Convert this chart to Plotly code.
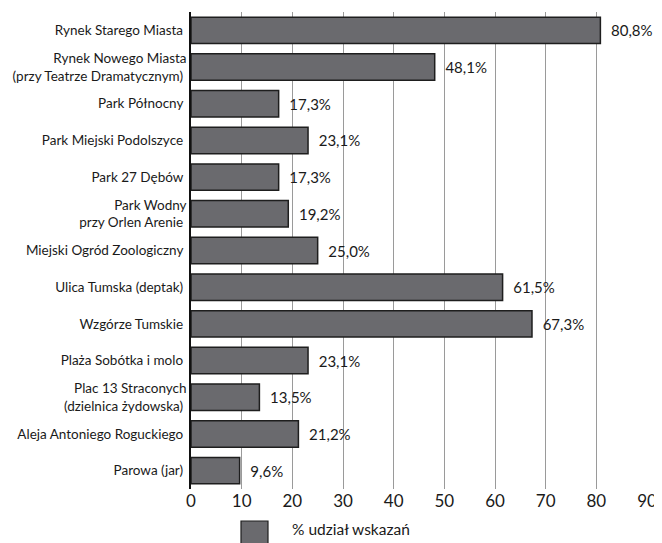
import plotly.graph_objects as go

categories = [
    "Rynek Starego Miasta",
    "Rynek Nowego Miasta<br>(przy Teatrze Dramatycznym)",
    "Park Północny",
    "Park Miejski Podolszyce",
    "Park 27 Dębów",
    "Park Wodny<br>przy Orlen Arenie",
    "Miejski Ogród Zoologiczny",
    "Ulica Tumska (deptak)",
    "Wzgórze Tumskie",
    "Plaża Sobótka i molo",
    "Plac 13 Straconych<br>(dzielnica żydowska)",
    "Aleja Antoniego Roguckiego",
    "Parowa (jar)",
]
values = [80.8, 48.1, 17.3, 23.1, 17.3, 19.2, 25.0, 61.5, 67.3, 23.1, 13.5, 21.2, 9.6]
labels = [("%.1f%%" % v).replace(".", ",") for v in values]
tick_vals = list(range(0, 100, 10))
series_name = "% udział wskazań"

FONT = "Lato, DejaVu Sans, sans-serif"

fig = go.Figure()
fig.add_trace(go.Bar(
    y=categories, x=values, orientation="h",
    marker=dict(color="#6a6a6e", line=dict(color="#1e1e1e", width=1.5)),
    text=["  " + l for l in labels], textposition="outside",
    textfont=dict(size=15, color="#1a1a1a", family=FONT),
    cliponaxis=False, width=0.72, name=series_name, showlegend=False,
))

H = 477.0
W = 456.0
fig.update_layout(
    width=654, height=535,
    margin=dict(l=183, r=15, t=4, b=54),
    plot_bgcolor="white", paper_bgcolor="white",
    font=dict(family=FONT, color="#1a1a1a"),
    xaxis=dict(range=[0, 90], tickvals=tick_vals, showgrid=True,
               gridcolor="#9a9a9a", gridwidth=1.2, zeroline=False,
               tickfont=dict(size=17), ticks="", showline=False,
               automargin=False),
    yaxis=dict(autorange="reversed", tickfont=dict(size=13.5), ticks="",
               showline=True, linecolor="#111", linewidth=1.5,
               showgrid=False, ticksuffix=" ", automargin=False),
    bargap=0.28,
)

# legend drawn as box + text
fig.add_shape(type="rect", xref="paper", yref="paper",
              x0=(241 - 191) / W, x1=(268 - 191) / W,
              y0=-60 / H, y1=-32 / H,
              fillcolor="#6a6a6e", line=dict(color="#1e1e1e", width=1.2))
fig.add_annotation(xref="paper", yref="paper", x=(290 - 191) / W, y=-40 / H,
                   text=series_name, showarrow=False, xanchor="left", yanchor="middle",
                   font=dict(size=15.5, family=FONT, color="#1a1a1a"))

fig.write_html("out.html")
